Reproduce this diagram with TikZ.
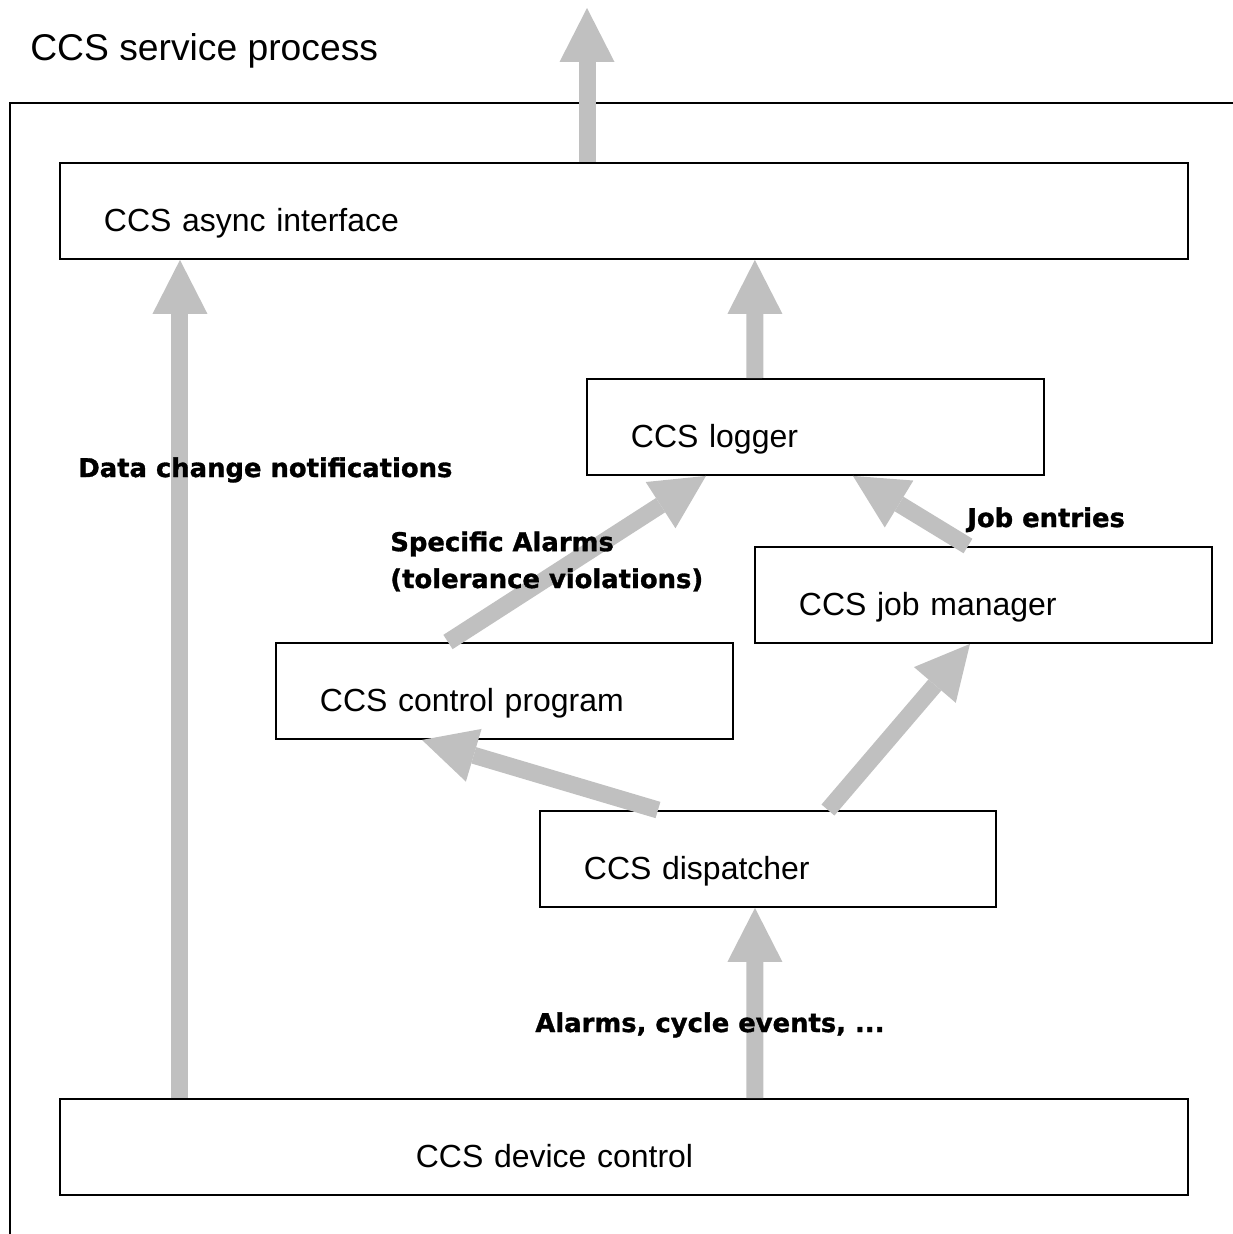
\documentclass[tikz,border=0pt]{standalone}
\usepackage{fontspec}
\setmainfont{Liberation Sans}
\newfontfamily\notefont{DejaVu Sans}[BoldFeatures={FakeBold=1.2}]
\usepackage{tikz}
\usetikzlibrary{arrows.meta}
\definecolor{flowgray}{HTML}{C0C0C0}

\begin{document}
\begin{tikzpicture}[x=0.02cm, y=-0.02cm,
    module/.style={rectangle, draw=black, line width=1.1pt, anchor=north west, inner xsep=0.88cm, inner ysep=0pt, text height=1.38cm, text depth=0.54cm, align=left, font=\fontsize{18.2}{22}\selectfont},
    flow/.style={draw=flowgray, line width=0.34cm, -{Triangle[width=1.1cm, length=1.08cm, line width=0pt]}},
    note/.style={anchor=base west, inner sep=0pt, align=left, font=\notefont\bfseries\fontsize{14.7}{21}\selectfont},
]
\useasboundingbox (0,0) rectangle (1233,1234);

% Process frame
\node[anchor=base west, inner sep=0pt, font=\fontsize{21.2}{25}\selectfont] (title) at (30,60) {CCS service process};
\draw[line width=0.8pt] (10,1234) -- (10,103) -- (1233,103);

% Modules
\node[module, text width=20.8cm] (async) at (59,162) {CCS async interface};
\node[module, text width=7.38cm] (logger) at (586,378) {CCS logger};
\node[module, text width=7.38cm] (jobs) at (754,546) {CCS job manager};
\node[module, text width=7.38cm] (ctrl) at (275,642) {CCS control program};
\node[module, text width=7.36cm] (disp) at (539,810) {CCS dispatcher};
\node[module, text width=20.8cm] (device) at (59,1098) {\hspace*{6.24cm}CCS device control};

% Flows
\coordinate (out) at (587,8);
\draw[flow] (out |- async.north) -- (out);
\draw[flow] ([xshift=2.42cm]device.north west) -- ([xshift=2.42cm]async.south west);
\draw[flow] ([xshift=3.38cm]logger.north west) -- ([xshift=13.92cm]async.south west);
\draw[flow] ([xshift=3.46cm]ctrl.north west) -- ([xshift=2.4cm]logger.south west);
\draw[flow] ([xshift=4.28cm]jobs.north west) -- ([xshift=5.34cm]logger.south west);
\draw[flow] ([xshift=2.38cm]disp.north west) -- ([xshift=2.94cm]ctrl.south west);
\draw[flow] ([xshift=5.78cm]disp.north west) -- ([xshift=4.32cm]jobs.south west);
\draw[flow] ([xshift=13.92cm]device.north west) -- ([xshift=4.32cm]disp.south west);

% Labels
\node[note] (datalbl) at (78,477) {Data change notifications};
\node[note] (alarmlbl) at (390,588) {Specific Alarms\\(tolerance violations)};
\node[note] (joblbl) at (967,527) {Job entries};
\node[note] (eventlbl) at (535,1032) {Alarms, cycle events, ...};

\end{tikzpicture}
\end{document}
